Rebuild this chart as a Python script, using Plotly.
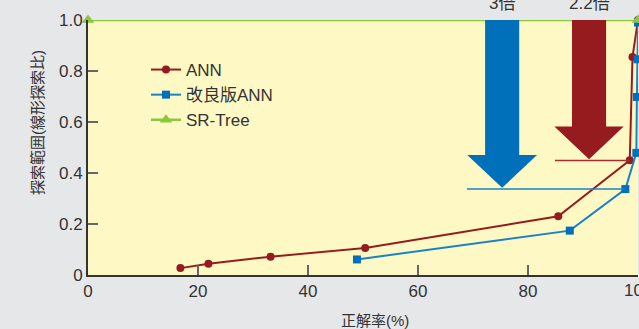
import plotly.graph_objects as go

# ---- data ----
ann_x = [16.8, 21.9, 33.2, 50.4, 85.5, 98.5, 99.0, 100.0]
ann_y = [0.027, 0.044, 0.072, 0.106, 0.23, 0.45, 0.855, 1.0]
imp_x = [48.9, 87.6, 97.7, 99.7, 99.8, 99.9, 100.0]
imp_y = [0.061, 0.174, 0.337, 0.479, 0.698, 0.846, 0.99]
sr_x = [0, 100]
sr_y = [1.0, 1.0]

x_ticks = [0, 20, 40, 60, 80]
x_edge_tick = 100
y_ticks = [0, 0.2, 0.4, 0.6, 0.8, 1.0]
y_ticklabels = ["0", "0.2", "0.4", "0.6", "0.8", "1.0"]

# arrows: label, centre x, tip y, shaft half width, head half width, head height, ref line x range
arrow_labels = ["3倍", "2.2倍"]
arrow_cx = [75.3, 91.1]
arrow_tip = [0.342, 0.454]
arrow_shaft_hw = [3.1, 3.1]
arrow_head_hw = [6.35, 6.3]
arrow_head_h = [0.129, 0.128]
ref_x0 = [68.9, 84.9]
ref_x1 = [97.7, 98.5]
ref_y = [0.337, 0.449]

RED = "#961b1f"
BLUE = "#0070bb"
BLUE_L = "#1a82c8"
GREEN = "#8dc63f"
FONT = "Liberation Sans, Noto Sans CJK JP, sans-serif"
TXT = "#333333"

fig = go.Figure()

arrow_colors = [BLUE, RED]
line_colors = [BLUE_L, "#a5302f"]
for i in range(2):
    cx = arrow_cx[i]
    sw = arrow_shaft_hw[i]
    hw = arrow_head_hw[i]
    tip = arrow_tip[i]
    ht = tip + arrow_head_h[i]
    path = (f"M{cx - sw},1.0 L{cx + sw},1.0 L{cx + sw},{ht} L{cx + hw},{ht} "
            f"L{cx},{tip} L{cx - hw},{ht} L{cx - sw},{ht} Z")
    fig.add_shape(type="path", path=path, xref="x", yref="y",
                  fillcolor=arrow_colors[i], line=dict(width=0), layer="above")
    fig.add_shape(type="line", x0=ref_x0[i], x1=ref_x1[i], y0=ref_y[i], y1=ref_y[i],
                  xref="x", yref="y", line=dict(color=line_colors[i], width=1.5), layer="above")
    fig.add_annotation(x=cx, y=1.0, xref="x", yref="paper", yanchor="bottom", xanchor="center",
                       text=arrow_labels[i], showarrow=False, yshift=5,
                       font=dict(size=17, color=TXT, family=FONT))

fig.add_trace(go.Scatter(x=ann_x, y=ann_y, mode="lines+markers", name="ANN",
                         line=dict(color=RED, width=2), legendgroup="a",
                         marker=dict(color=RED, size=8, symbol="circle"), cliponaxis=False))
fig.add_trace(go.Scatter(x=imp_x, y=imp_y, mode="lines+markers", name="改良版ANN",
                         line=dict(color=BLUE_L, width=2), legendgroup="b",
                         marker=dict(color=BLUE, size=8, symbol="square"), cliponaxis=False))
fig.add_trace(go.Scatter(x=sr_x, y=sr_y, mode="lines+markers", name="SR-Tree",
                         line=dict(color=GREEN, width=2.5), legendgroup="c",
                         marker=dict(color=GREEN, size=11, symbol="triangle-up"), cliponaxis=False))

# tick label at right edge (cut by the page edge as in the original)
fig.add_annotation(x=x_edge_tick, y=0, xref="x", yref="paper", yanchor="middle", xanchor="center",
                   text=str(x_edge_tick), showarrow=False, yshift=-15,
                   font=dict(size=17, color=TXT, family=FONT))

W, H = 639, 329
L, R, T, B = 88, 1, 20, 54
pw, ph = W - L - R, H - T - B

fig.add_annotation(x=(37 - L) / pw, y=(H - B - 123) / ph, xref="paper", yref="paper",
                   xanchor="center", yanchor="middle", text="探索範囲(線形探索比)",
                   showarrow=False, textangle=-90,
                   font=dict(size=15, color=TXT, family=FONT))
fig.add_annotation(x=(375 - L) / pw, y=(H - B - 320) / ph, xref="paper", yref="paper",
                   xanchor="center", yanchor="middle", text="正解率(%)",
                   showarrow=False, font=dict(size=15, color=TXT, family=FONT))

fig.update_layout(
    width=W, height=H,
    margin=dict(l=L, r=R, t=T, b=B),
    paper_bgcolor="#e6e7e9",
    plot_bgcolor="#fef9c4",
    font=dict(family=FONT, size=17, color=TXT),
    showlegend=True,
    legend=dict(x=(146 - L) / pw, y=(H - B - 52) / ph, xanchor="left", yanchor="top",
                bgcolor="rgba(0,0,0,0)", font=dict(size=17, family=FONT, color=TXT),
                traceorder="grouped", tracegroupgap=0),
    xaxis=dict(range=[0, 100], tickvals=x_ticks, ticks="inside", ticklen=10,
               tickcolor="#666666", tickwidth=1.5, showgrid=False, zeroline=False,
               showline=True, linecolor="#333333", linewidth=2,
               tickfont=dict(size=17, family=FONT, color=TXT)),
    yaxis=dict(range=[0, 1.0], tickvals=y_ticks, ticktext=y_ticklabels, ticks="inside",
               ticklen=10, tickcolor="#666666", tickwidth=1.5, showgrid=False,
               zeroline=False, showline=True, linecolor="#333333", linewidth=2,
               tickfont=dict(size=17, family=FONT, color=TXT)),
)

fig.write_html("out.html", config={"displayModeBar": False},
               post_script="document.body.style.margin='0';document.body.style.overflow='hidden';")
